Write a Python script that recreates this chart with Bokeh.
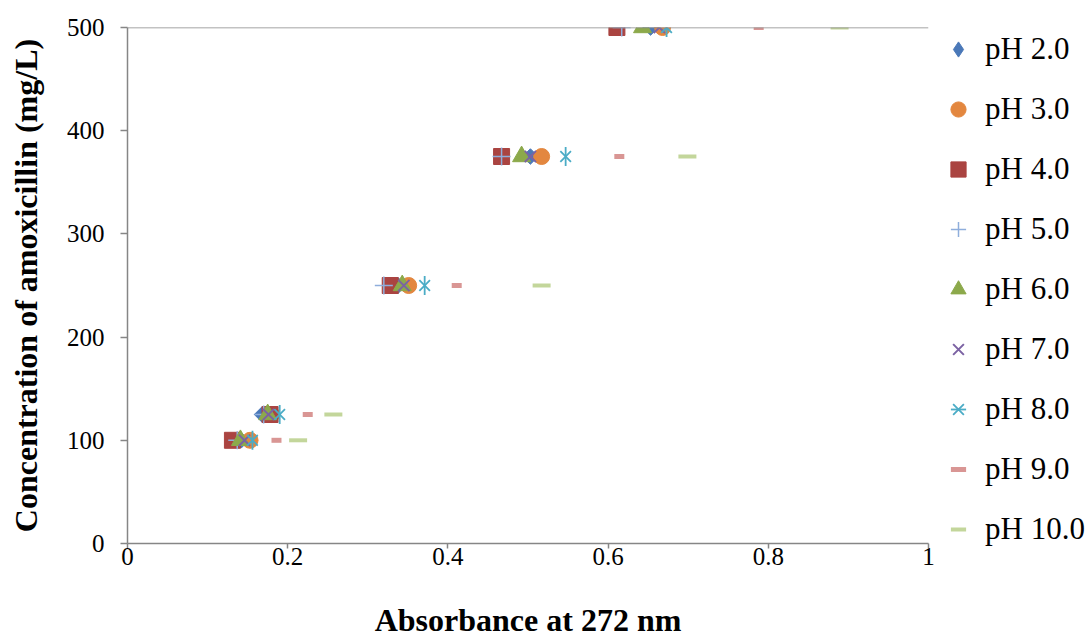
from bokeh.plotting import figure
from bokeh.models import (Range1d, FixedTicker, CustomJSTickFormatter, Legend,
                          LegendItem, Span, ColumnDataSource)
from bokeh.embed import file_html
from bokeh.resources import INLINE

# ---- data ----
concentration = [100, 125, 250, 375, 500]
series_names = ["pH 2.0", "pH 3.0", "pH 4.0", "pH 5.0", "pH 6.0",
                "pH 7.0", "pH 8.0", "pH 9.0", "pH 10.0"]
abs_ph2 = [0.142, 0.168, 0.338, 0.503, 0.653]
abs_ph3 = [0.153, 0.180, 0.351, 0.517, 0.668]
abs_ph4 = [0.131, 0.178, 0.328, 0.467, 0.611]
abs_ph5 = [0.137, 0.170, 0.320, 0.467, 0.617]
abs_ph6 = [0.141, 0.175, 0.343, 0.492, 0.643]
abs_ph7 = [0.146, 0.176, 0.345, 0.503, 0.664]
abs_ph8 = [0.156, 0.190, 0.371, 0.547, 0.673]
abs_ph9 = [0.186, 0.225, 0.411, 0.614, 0.788]
abs_ph10 = [0.213, 0.257, 0.517, 0.699, 0.889]
x_ticks = [0, 0.2, 0.4, 0.6, 0.8, 1]
y_ticks = [0, 100, 200, 300, 400, 500]

series_values = [abs_ph2, abs_ph3, abs_ph4, abs_ph5, abs_ph6,
                 abs_ph7, abs_ph8, abs_ph9, abs_ph10]

# ---- styles ----
BLUE = "#4A78B8"
styles = [
    [dict(marker="square", size=11, angle=45, angle_units="deg",
          fill_color=BLUE, line_color=BLUE)],
    [dict(marker="circle", size=16, fill_color="#E3873F", line_color="#E3873F")],
    [dict(marker="square", size=16, fill_color="#AA4441", line_color="#AA4441")],
    [dict(marker="cross", size=18, fill_color=None, line_color="#8FAEDC", line_width=1.5)],
    [dict(marker="triangle", size=18, fill_color="#8CA94B", line_color="#8CA94B")],
    [dict(marker="x", size=16, fill_color=None, line_color="#7B62A3", line_width=2)],
    [dict(marker="x", size=15, fill_color=None, line_color="#4BACC6", line_width=1.8),
     dict(marker="dash", size=19, angle=90, angle_units="deg", fill_color=None,
          line_color="#4BACC6", line_width=1.8)],
    [dict(marker="dash", size=10, fill_color=None, line_color="#D99694", line_width=5)],
    [dict(marker="dash", size=18, fill_color=None, line_color="#C3D69B", line_width=4)],
]

FONT = "Liberation Serif"
AXIS_COLOR = "#868686"

p = figure(frame_width=801, frame_height=516, x_range=Range1d(0, 1), y_range=Range1d(0, 500),
           output_backend="svg", toolbar_location=None,
           min_border_left=127, min_border_right=161,
           min_border_top=27, min_border_bottom=97)
p.xgrid.visible = False
p.ygrid.visible = False
p.outline_line_color = None
p.background_fill_color = "white"
p.border_fill_color = "white"

items = []
for i, (name, vals, sty) in enumerate(zip(series_names, series_values, styles)):
    src = ColumnDataSource(dict(x=vals, y=concentration))
    rends = []
    for s in sty:
        r = p.scatter(x="x", y="y", source=src, **s)
        rends.append(r)
    if i == 0:
        # legend-only diamond (rotated squares are drawn unrotated in legends)
        leg_src = ColumnDataSource(dict(x=[float("nan")], y=[float("nan")]))
        rends = [p.scatter(x="x", y="y", source=leg_src, marker="diamond", size=16,
                           fill_color=BLUE, line_color=BLUE)]
    items.append(LegendItem(label=name, renderers=rends))

top_line = Span(location=500, dimension="width", line_color=AXIS_COLOR, line_width=1.5)
p.add_layout(top_line)

for ax in (p.xaxis[0], p.yaxis[0]):
    ax.axis_line_color = AXIS_COLOR
    ax.axis_line_width = 1.5
    ax.major_tick_line_color = AXIS_COLOR
    ax.major_tick_line_width = 1.5
    ax.major_tick_out = 7
    ax.major_tick_in = 0
    ax.minor_tick_out = 0
    ax.minor_tick_in = 0
    ax.major_label_text_font = FONT
    ax.major_label_text_font_size = "25px"
    ax.major_label_text_color = "black"
    ax.axis_label_text_font = FONT
    ax.axis_label_text_font_style = "bold"
    ax.axis_label_text_font_size = "32px"
    ax.axis_label_text_color = "black"

p.xaxis.major_tick_out = 5
p.xaxis.ticker = FixedTicker(ticks=x_ticks)
p.yaxis.ticker = FixedTicker(ticks=y_ticks)
p.xaxis.formatter = CustomJSTickFormatter(code="return Number(tick.toFixed(1)).toString();")
p.xaxis.major_label_standoff = -1
p.yaxis.major_label_standoff = 16
p.xaxis.axis_label = "Absorbance at 272 nm"
p.yaxis.axis_label = "Concentration of amoxicillin (mg/L)"
p.xaxis.axis_label_standoff = 34
p.yaxis.axis_label_standoff = 20

legend = Legend(items=items, location="top_left", orientation="vertical",
                glyph_width=54, glyph_height=38, label_height=38, spacing=22,
                padding=0, margin=3, label_standoff=0,
                label_text_font=FONT, label_text_font_size="31px",
                label_text_color="black",
                background_fill_alpha=0, border_line_alpha=0)
p.add_layout(legend, "right")

open("out.html", "w").write(file_html(p, INLINE))
